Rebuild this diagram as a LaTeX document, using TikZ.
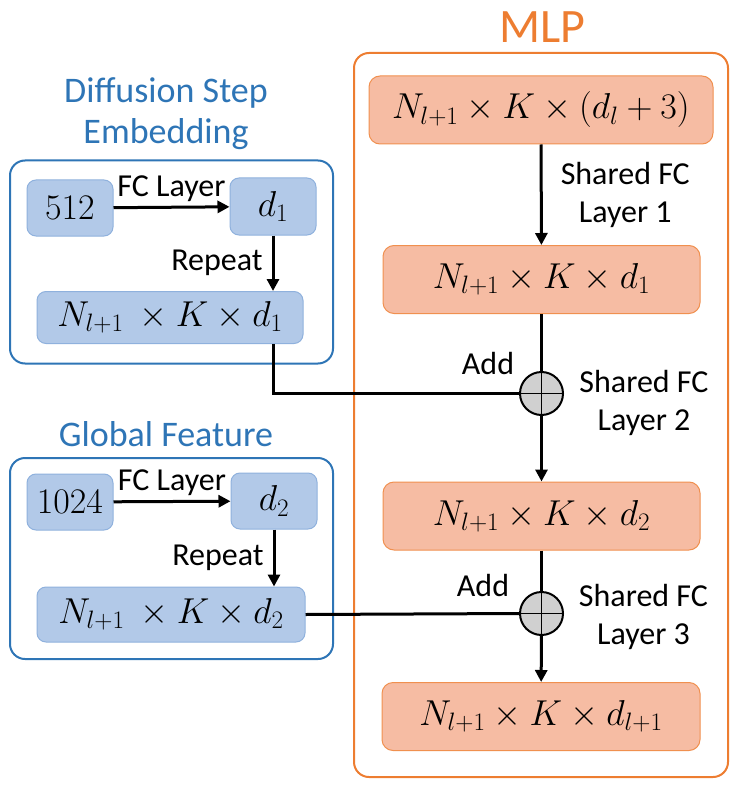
\documentclass[tikz,border=0pt]{standalone}
\usepackage{fix-cm}
\usepackage[no-math]{fontspec}
\setmainfont{Carlito}
\usetikzlibrary{positioning,arrows.meta}
\definecolor{dseblue}{HTML}{2E75B6}
\definecolor{boxblue}{HTML}{B2C9E8}
\definecolor{boxblueline}{HTML}{8FB1DD}
\definecolor{mlporange}{HTML}{ED7D31}
\definecolor{boxred}{HTML}{F6BCA3}
\definecolor{boxredline}{HTML}{F0904F}
\definecolor{addgray}{HTML}{D0D0D0}

\begin{document}
\begin{tikzpicture}[x=1pt,y=-1pt,auto,
		bluebox/.style={draw=boxblueline,fill=boxblue,rounded corners=9pt,line width=1pt,font=\fontsize{36}{42}\selectfont},
		redbox/.style={draw=boxredline,fill=boxred,rounded corners=11pt,line width=1pt,font=\fontsize{36}{42}\selectfont,minimum height=68},
		panel/.style={rounded corners=15pt,line width=2pt},
		addnode/.style={circle,draw,fill=addgray,line width=2pt,minimum size=43,inner sep=0pt},
		flow/.style={line width=3pt,-{Triangle[width=12pt,length=12pt]}},
		link/.style={line width=3pt},
		lbl/.style={font=\fontsize{32}{38}\selectfont,align=center,inner sep=0pt},
		ttl/.style={font=\fontsize{36}{41}\selectfont,align=center,inner sep=0pt}]
		\useasboundingbox (0,0) rectangle (740,786);

		% diffusion step embedding
		\draw (171.5,262) node [panel,draw=dseblue,minimum width=323,minimum height=203] (dsepanel){};
		\draw (166,114) node [ttl,text=dseblue] (dsetitle){Diffusion Step\\Embedding};
		\draw (70,208) node [bluebox,minimum width=86,minimum height=56] (in512){$512$};
		\draw (273,206.5) node [bluebox,minimum width=86,minimum height=57] (d1){$d_1$};
		\draw (170,317.5) node [bluebox,minimum width=266,minimum height=52] (dseN){$N_{l+1}\ \times K\times d_1$};

		% global feature
		\draw (171.5,558.5) node [panel,draw=dseblue,minimum width=323,minimum height=201] (gfpanel){};
		\draw (166,434) node [ttl,text=dseblue] (gftitle){Global Feature};
		\draw (70,502) node [bluebox,minimum width=86,minimum height=56] (in1024){$1024$};
		\draw (274,501) node [bluebox,minimum width=86,minimum height=56] (d2){$d_2$};
		\draw (171,614.5) node [bluebox,minimum width=268,minimum height=55] (gfN){$N_{l+1}\ \times K\times d_2$};

		% mlp
		\draw (541,415) node [panel,draw=mlporange,minimum width=374,minimum height=724] (mlppanel){};
		\draw (542.5,27) node [font=\fontsize{48}{54}\selectfont,text=mlporange,inner sep=0pt] (mlptitle){MLP};
		\draw (541,110) node [redbox,minimum width=344] (mlpin){$N_{l+1}\times K\times(d_l+3)$};
		\draw (541.5,279.5) node [redbox,minimum width=317] (mlph1){$N_{l+1}\times K\times d_1$};
		\draw (541.5,393.5) node [addnode] (add1){};
		\draw (541.5,516) node [redbox,minimum width=317] (mlph2){$N_{l+1}\times K\times d_2$};
		\draw (541.5,613.5) node [addnode] (add2){};
		\draw (541,716.5) node [redbox,minimum width=318] (mlpout){$N_{l+1}\times K\times d_{l+1}$};

		\draw [line width=1.6pt] (add1.north) -- (add1.south) (add1.west) -- (add1.east);
		\draw [line width=1.6pt] (add2.north) -- (add2.south) (add2.west) -- (add2.east);

		\draw [flow]
		(in512) edge node [lbl,yshift=4pt]{FC Layer} (d1)
		(d1) edge node [lbl,swap,xshift=-9pt]{Repeat} (d1 |- dseN.north)
		(in1024) edge node [lbl,yshift=4pt]{FC Layer} (d2)
		(d2) edge node [lbl,swap,xshift=-9pt]{Repeat} (d2 |- gfN.north)
		(mlpin) edge node [lbl,xshift=18pt]{Shared FC\\Layer 1} (mlph1)
		(add1) edge (mlph2)
		(add2) edge (mlpout);

		\draw [link] (mlph1) -- (add1) (mlph2) -- (add2);
		\draw [link] (dseN.south -| d1) |- (add1.west);
		\draw [link] (gfN.east) -- (add2.west);

		\draw (488,363) node [lbl] (add1lbl){Add};
		\draw (644,403) node [lbl] (fc2lbl){Shared FC\\Layer 2};
		\draw (483,585) node [lbl] (add2lbl){Add};
		\draw (643.5,617) node [lbl] (fc3lbl){Shared FC\\Layer 3};
	\end{tikzpicture}
\end{document}
